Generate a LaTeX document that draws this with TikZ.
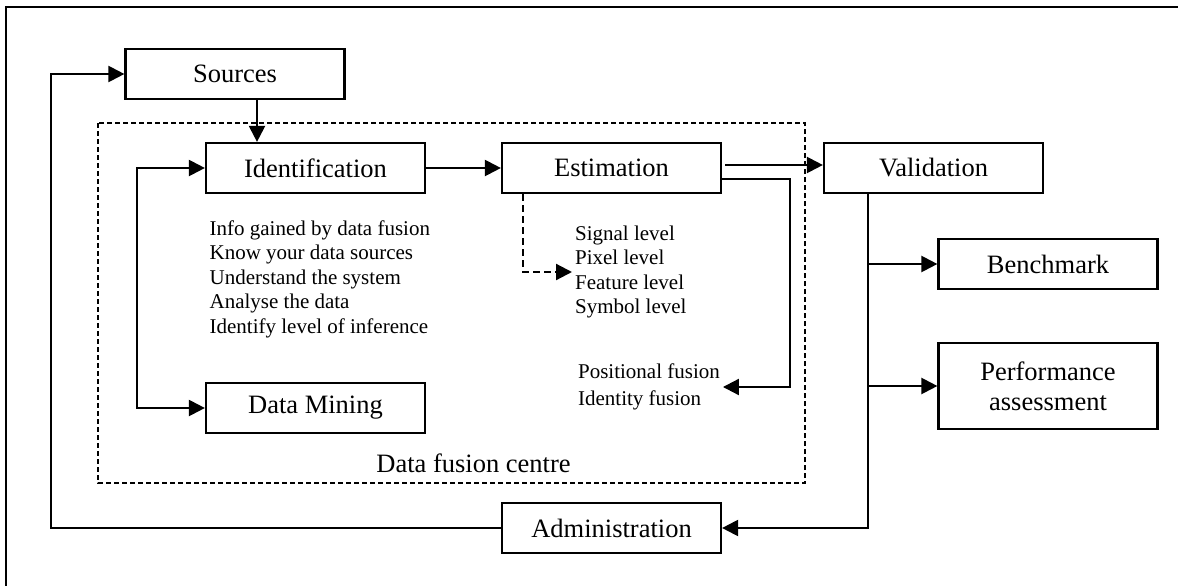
\documentclass[tikz,border=0pt]{standalone}
\usepackage{fontspec}
\setmainfont{Liberation Serif}
\usepackage{tikz}
\usetikzlibrary{arrows.meta}

\begin{document}
\begin{tikzpicture}[x=1pt, y=-1pt, line width=2.2pt,
            box/.style = {draw, line width=2.2pt, minimum width=219pt, minimum height=50pt, inner sep=0pt, align=center, font=\fontsize{26.5}{30}\selectfont},
            note/.style = {anchor=west, align=left, inner sep=2pt, font=\fontsize{21}{24.5}\selectfont},
            link/.style = {-{Triangle[length=16pt,width=16pt]}},
            twoway/.style = {{Triangle[length=16pt,width=16pt]}-{Triangle[length=16pt,width=16pt]}}]
        \useasboundingbox (0,0) rectangle (1178,586);
        \draw[line width=2.4pt] (1178,7) -- (6,7) -- (6,586);
        \draw[line width=1.2pt, dash pattern=on 5pt off 3pt] (98,123) rectangle (805,483);

        \node[box] (Sources) at (235,74) {Sources};
        \node[box] (Identification) at (315.5,168) {Identification};
        \node[box] (Estimation) at (611.5,168) {Estimation};
        \node[box] (Validation) at (933.5,168) {Validation};
        \node[box] (Benchmark) at (1048,264) {Benchmark};
        \node[box, minimum height=86pt] (Performance) at (1048,386) {Performance\\assessment};
        \node[box] (Mining) at (315.5,408) {Data Mining};
        \node[box] (Administration) at (611.5,528) {Administration};

        \node[note] (steps) at (206.5,279) {Info gained by data fusion\\Know your data sources\\Understand the system\\Analyse the data\\Identify level of inference};
        \node[note] (levels) at (572,272) {Signal level\\Pixel level\\Feature level\\Symbol level};
        \node[note, font=\fontsize{21}{26.7}\selectfont] (fusion) at (575,387) {Positional fusion\\Identity fusion};
        \node[font=\fontsize{26.5}{30}\selectfont] (centre) at (473.5,463) {Data fusion centre};

        \draw[link] ([xshift=22pt]Sources.south) -- ([xshift=22pt]Sources.south |- Identification.north);
        \draw[link] (Identification) -- (Estimation);
        \draw[twoway] (Identification.west) -- ++(-68,0) |- (Mining.west);
        \draw[link, dash pattern=on 7pt off 4pt] ([xshift=-88.5pt]Estimation.south) |- (levels.west);
        \draw[link, shorten <=3pt] ([yshift=3pt]Estimation.east) -- ([yshift=3pt]Validation.west);
        \draw[link] ([yshift=-11pt]Estimation.east) -| ([xshift=67pt]fusion.east) -- (fusion.east);

        % bus under Validation
        \coordinate (bus) at ([xshift=-65.5pt]Validation.south);
        \draw[link] (bus) |- (Administration.east);
        \draw[link] (bus |- Benchmark.west) -- (Benchmark.west);
        \draw[link] (bus |- Performance.west) -- (Performance.west);
        \draw[link] (Administration.west) -- ++(-450,0) |- (Sources.west);
\end{tikzpicture}
\end{document}
